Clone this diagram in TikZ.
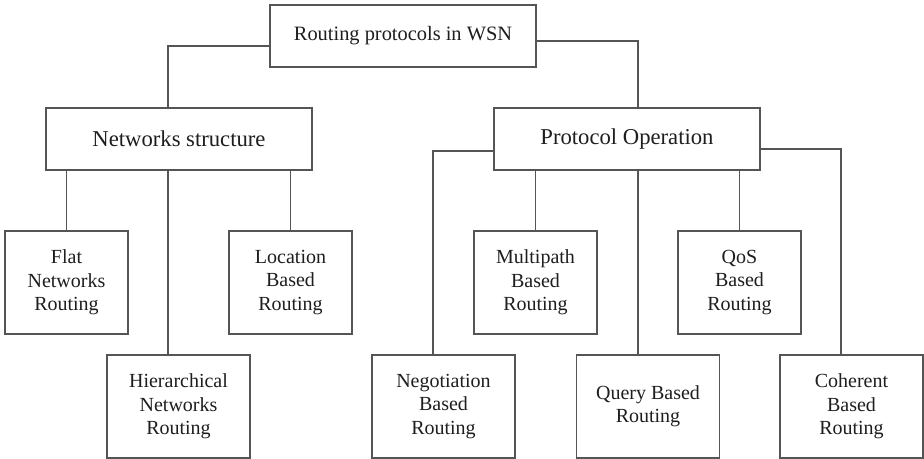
\documentclass[tikz,border=0pt]{standalone}
\usepackage{fontspec}
\setmainfont{Liberation Serif}
\usetikzlibrary{calc}
\definecolor{linec}{RGB}{85,85,85}
\definecolor{txtc}{RGB}{30,30,30}
\begin{document}
\begin{tikzpicture}[x=0.75pt,y=-0.75pt,
  box/.style={draw=linec,line width=0.8pt,rectangle,inner sep=0pt,text=txtc,align=center},
  rootbox/.style={box,minimum width=199.5pt,minimum height=46.5pt,font=\fontsize{15.3}{18}\selectfont},
  headbox/.style={box,minimum width=199.5pt,minimum height=46.5pt,font=\fontsize{17}{20}\selectfont},
  leafa/.style={box,minimum width=92.25pt,minimum height=77.25pt,font=\fontsize{15}{17.5}\selectfont},
  leafb/.style={box,minimum width=107.25pt,minimum height=77.25pt,font=\fontsize{15}{17.5}\selectfont},
  conn/.style={draw=linec,line width=0.8pt}]
\useasboundingbox (0,0) rectangle (924,459);
\fill[white] (0,0) rectangle (924,459);
\node[rootbox] (root) at (403,36) {Routing protocols in WSN};
\node[headbox] (ns) at (179,139) {Networks structure};
\node[headbox] (po) at (627,139) {Protocol Operation};
\node[leafa] (flat) at (66.5,282.5) {Flat\\Networks\\Routing};
\node[leafa] (loc) at (290.5,282.5) {Location\\Based\\Routing};
\node[leafb] (hier) at (178.5,406.5) {Hierarchical\\Networks\\Routing};
\node[leafa] (multi) at (535.5,282.5) {Multipath\\Based\\Routing};
\node[leafa] (qos) at (739.5,282.5) {QoS\\Based\\Routing};
\node[leafb] (neg) at (443.5,406.5) {Negotiation\\Based\\Routing};
\node[leafb] (query) at (648,406.5) {Query Based\\Routing};
\node[leafb] (coh) at (851.5,406.5) {Coherent\\Based\\Routing};
\coordinate (hx) at ($(hier.north)+(-10.5,0)$);
\coordinate (nx) at ($(neg.north)+(-10.5,0)$);
\coordinate (qx) at ($(query.north)+(-10,0)$);
\coordinate (cx) at ($(coh.north)+(-10.5,0)$);
\draw[conn] ($(root.west)+(0,10)$) -| ($(ns.north)+(-11,0)$);
\draw[conn] ($(root.east)+(0,5)$) -| ($(po.north)+(11,0)$);
\draw[conn] (flat.north |- ns.south) -- (flat.north);
\draw[conn] (hx |- ns.south) -- (hx);
\draw[conn] (loc.north |- ns.south) -- (loc.north);
\draw[conn] ($(po.west)+(0,12)$) -| (nx);
\draw[conn] (multi.north |- po.south) -- (multi.north);
\draw[conn] (qx |- po.south) -- (qx);
\draw[conn] (qos.north |- po.south) -- (qos.north);
\draw[conn] ($(po.east)+(0,10)$) -| (cx);
\end{tikzpicture}
\end{document}
